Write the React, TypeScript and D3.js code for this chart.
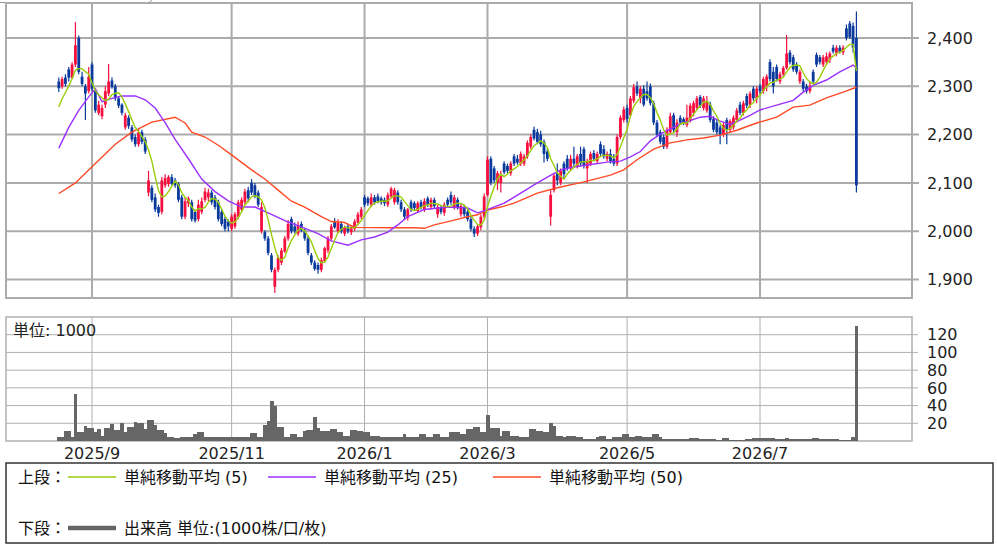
import * as d3 from "d3"
import { useEffect, useRef } from "react"

// daily candles [open, high, low, close], 2025/8/18 .. 2026/8
const candles: [number, number, number, number][] = [
    [2310, 2318, 2288, 2296], [2300, 2320, 2295, 2315], [2318, 2325, 2300, 2305], [2335, 2340, 2310, 2318], [2318, 2350, 2315, 2345],
    [2345, 2433, 2340, 2385], [2400, 2405, 2325, 2330], [2320, 2330, 2300, 2305], [2300, 2305, 2230, 2285], [2290, 2340, 2285, 2320],
    [2345, 2350, 2290, 2295], [2290, 2295, 2245, 2250], [2245, 2270, 2240, 2262], [2238, 2262, 2232, 2255], [2262, 2300, 2255, 2290],
    [2285, 2346, 2280, 2310], [2312, 2318, 2295, 2298], [2300, 2305, 2270, 2275], [2275, 2280, 2255, 2260], [2262, 2265, 2240, 2245],
    [2215, 2245, 2210, 2240], [2235, 2240, 2212, 2218], [2215, 2220, 2185, 2190], [2195, 2200, 2175, 2180], [2180, 2212, 2175, 2205],
    [2205, 2210, 2180, 2185], [2190, 2195, 2160, 2165], [2080, 2125, 2072, 2105], [2090, 2095, 2060, 2065], [2070, 2078, 2040, 2045],
    [2050, 2055, 2030, 2038], [2040, 2112, 2035, 2105], [2095, 2118, 2090, 2110], [2098, 2116, 2092, 2112], [2112, 2118, 2095, 2098],
    [2105, 2110, 2090, 2095], [2098, 2102, 2060, 2065], [2070, 2075, 2025, 2030], [2030, 2070, 2025, 2062], [2058, 2072, 2050, 2068],
    [2060, 2065, 2020, 2025], [2040, 2045, 2018, 2022], [2025, 2065, 2020, 2055], [2040, 2070, 2035, 2062], [2065, 2090, 2060, 2082],
    [2070, 2088, 2062, 2080], [2080, 2085, 2055, 2060], [2070, 2075, 2045, 2050], [2060, 2065, 2020, 2025], [2040, 2045, 2010, 2015],
    [2025, 2030, 2000, 2005], [2020, 2025, 2000, 2010], [2005, 2035, 2000, 2030], [2010, 2040, 2005, 2035], [2030, 2065, 2025, 2060],
    [2045, 2070, 2040, 2065], [2060, 2088, 2055, 2082], [2085, 2092, 2060, 2068], [2100, 2108, 2075, 2080], [2095, 2100, 2068, 2072],
    [2080, 2085, 2050, 2055], [2000, 2060, 1995, 2050], [1998, 2002, 1980, 1985], [1985, 1990, 1950, 1955], [1950, 1955, 1915, 1920],
    [1885, 1925, 1872, 1920], [1920, 1950, 1915, 1945], [1935, 1965, 1930, 1960], [1958, 1990, 1955, 1985], [1985, 2023, 1980, 2015],
    [2025, 2030, 1995, 2000], [2010, 2018, 1995, 2000], [1995, 2020, 1990, 2012], [2015, 2020, 1998, 2002], [2000, 2005, 1980, 1985],
    [1985, 1990, 1950, 1955], [1950, 1955, 1930, 1935], [1935, 1940, 1918, 1922], [1930, 1935, 1912, 1920], [1920, 1945, 1915, 1940],
    [1938, 1968, 1935, 1965], [1960, 1990, 1955, 1985], [1985, 2015, 1980, 2010], [2020, 2027, 2005, 2008], [2000, 2025, 1995, 2018],
    [2015, 2020, 1995, 2000], [1995, 2012, 1990, 2008], [2010, 2015, 1995, 2000], [1998, 2012, 1992, 2008], [2005, 2025, 2000, 2020],
    [2018, 2040, 2012, 2035], [2030, 2050, 2025, 2045], [2070, 2075, 2050, 2055], [2068, 2072, 2052, 2058], [2055, 2078, 2050, 2070],
    [2070, 2075, 2055, 2060], [2072, 2078, 2058, 2062], [2068, 2072, 2055, 2060], [2065, 2070, 2052, 2058], [2055, 2080, 2050, 2075],
    [2072, 2092, 2068, 2088], [2060, 2090, 2055, 2085], [2080, 2085, 2055, 2060], [2060, 2065, 2040, 2045], [2045, 2050, 2025, 2030],
    [2028, 2048, 2022, 2045], [2060, 2065, 2040, 2045], [2058, 2062, 2042, 2048], [2042, 2062, 2038, 2058], [2060, 2065, 2045, 2050],
    [2045, 2068, 2040, 2062], [2068, 2072, 2050, 2055], [2050, 2070, 2045, 2065], [2065, 2070, 2048, 2052], [2035, 2055, 2028, 2050],
    [2050, 2055, 2035, 2040], [2038, 2060, 2032, 2055], [2065, 2070, 2050, 2055], [2075, 2082, 2055, 2060], [2050, 2075, 2045, 2070],
    [2065, 2070, 2045, 2050], [2035, 2058, 2030, 2052], [2050, 2055, 2030, 2035], [2040, 2045, 2020, 2025], [2025, 2030, 2000, 2005],
    [2005, 2010, 1988, 1995], [1995, 2015, 1990, 2010], [2008, 2035, 2002, 2030], [2030, 2078, 2025, 2072], [2075, 2155, 2072, 2148],
    [2150, 2155, 2095, 2100], [2130, 2135, 2100, 2105], [2100, 2125, 2085, 2120], [2100, 2125, 2080, 2118], [2140, 2145, 2118, 2122],
    [2135, 2140, 2120, 2125], [2120, 2145, 2115, 2140], [2155, 2160, 2135, 2140], [2150, 2158, 2138, 2142], [2140, 2165, 2135, 2160],
    [2140, 2160, 2135, 2155], [2155, 2188, 2150, 2183], [2175, 2200, 2170, 2195], [2210, 2216, 2188, 2192], [2205, 2212, 2180, 2185],
    [2200, 2208, 2175, 2180], [2185, 2190, 2142, 2160], [2165, 2170, 2145, 2150], [2030, 2085, 2012, 2075], [2085, 2120, 2080, 2115],
    [2120, 2140, 2095, 2105], [2100, 2130, 2095, 2125], [2140, 2145, 2110, 2118], [2150, 2158, 2125, 2130], [2130, 2158, 2125, 2150],
    [2150, 2175, 2135, 2140], [2135, 2160, 2130, 2155], [2160, 2175, 2135, 2140], [2170, 2175, 2130, 2135], [2130, 2150, 2100, 2145],
    [2140, 2165, 2135, 2160], [2162, 2168, 2145, 2150], [2145, 2165, 2140, 2160], [2180, 2186, 2155, 2160], [2170, 2178, 2150, 2155],
    [2150, 2165, 2145, 2160], [2160, 2170, 2140, 2145], [2150, 2160, 2135, 2140], [2140, 2200, 2135, 2195], [2195, 2240, 2190, 2235],
    [2230, 2258, 2225, 2252], [2255, 2262, 2225, 2232], [2240, 2280, 2235, 2275], [2270, 2305, 2265, 2298], [2300, 2310, 2280, 2285],
    [2275, 2300, 2265, 2295], [2295, 2302, 2258, 2262], [2290, 2310, 2270, 2275], [2300, 2306, 2260, 2265], [2265, 2270, 2220, 2225],
    [2225, 2230, 2195, 2200], [2205, 2210, 2180, 2185], [2195, 2200, 2170, 2175], [2175, 2215, 2170, 2210], [2205, 2245, 2200, 2238],
    [2240, 2245, 2205, 2210], [2205, 2232, 2195, 2225], [2235, 2240, 2220, 2225], [2232, 2236, 2220, 2224], [2220, 2262, 2215, 2235],
    [2230, 2265, 2225, 2260], [2245, 2270, 2238, 2265], [2255, 2280, 2250, 2275], [2278, 2282, 2255, 2260], [2255, 2280, 2250, 2275],
    [2250, 2280, 2245, 2270], [2262, 2268, 2225, 2230], [2232, 2238, 2205, 2210], [2225, 2230, 2200, 2205], [2215, 2220, 2180, 2200],
    [2200, 2225, 2195, 2220], [2230, 2235, 2180, 2210], [2210, 2232, 2205, 2228], [2215, 2240, 2210, 2235], [2230, 2255, 2225, 2250],
    [2262, 2268, 2240, 2245], [2245, 2270, 2240, 2265], [2280, 2285, 2255, 2260], [2262, 2290, 2255, 2285], [2295, 2300, 2270, 2275],
    [2275, 2300, 2265, 2295], [2300, 2305, 2285, 2290], [2290, 2320, 2285, 2315], [2300, 2325, 2290, 2320], [2350, 2356, 2310, 2315],
    [2330, 2340, 2285, 2300], [2340, 2345, 2310, 2315], [2310, 2330, 2305, 2325], [2325, 2342, 2320, 2338], [2338, 2406, 2335, 2368],
    [2370, 2375, 2345, 2350], [2360, 2365, 2330, 2335], [2345, 2350, 2325, 2330], [2310, 2335, 2305, 2330], [2310, 2315, 2290, 2295],
    [2300, 2305, 2285, 2290], [2290, 2310, 2285, 2300], [2330, 2335, 2305, 2310], [2365, 2370, 2340, 2345], [2360, 2365, 2345, 2350],
    [2345, 2365, 2340, 2360], [2350, 2370, 2345, 2362], [2355, 2372, 2348, 2368], [2380, 2386, 2368, 2372], [2368, 2385, 2362, 2380],
    [2380, 2385, 2368, 2372], [2370, 2385, 2365, 2380], [2420, 2428, 2395, 2400], [2430, 2435, 2398, 2402], [2425, 2432, 2370, 2380],
    [2400, 2455, 2080, 2095],
]

// closes of the 4 sessions before the first candle (for the 5-day average)
const priorCloses = [2230, 2240, 2250, 2270]

// volume, unit 1000
const volumes = [
    5, 5, 11, 11, 5, 53, 10, 10, 17, 15,
    15, 10, 14, 6, 15, 15, 19, 12, 12, 20,
    10, 16, 16, 22, 20, 20, 14, 24, 24, 18,
    12, 12, 9, 5, 5, 3, 3, 4.5, 4.5, 5,
    5, 7.5, 10, 10, 5, 5, 4, 4, 4, 5,
    5, 5, 5, 5, 4, 4, 4, 4, 9, 9,
    5, 5, 18, 23, 45, 40, 16, 16, 4.5, 4.5,
    7.5, 7.5, 4.5, 4.5, 11, 12, 12, 27, 15, 11,
    11, 11, 14, 14, 10, 10, 6, 6, 12, 12,
    11, 11, 10, 10, 6, 6, 6, 4.5, 4.5, 4.5,
    5, 5, 5, 5, 8, 5, 5, 5, 5, 8,
    8, 5, 5, 8, 8, 4.5, 4.5, 4.5, 10, 10,
    10, 8, 8, 14, 14, 16, 16, 10, 10, 29,
    15, 15, 15, 6, 11, 11, 6, 6, 6, 5,
    5, 5, 13, 13, 11, 11, 10, 10, 20, 17,
    6, 6, 4.5, 6, 6, 6, 4.5, 4.5, 2.6, 2.6,
    2.6, 2.6, 4.5, 6, 6, 2.6, 2.6, 4.5, 4.5, 4.5,
    8, 8, 4.5, 4.5, 6, 6, 4.5, 4.5, 4.5, 8,
    8, 5, 2.6, 2.6, 2.6, 2, 2, 2, 2, 2,
    3.4, 3.4, 3.4, 2, 2, 2, 2, 2, 1.5, 1.5,
    3.8, 3.8, 1, 1, 1, 1, 1, 2.6, 2.6, 3.8,
    3.8, 3.8, 3.8, 3.8, 3.8, 3.8, 2.3, 2.3, 2.3, 3.8,
    2.3, 2.3, 2.3, 2.3, 2.3, 2.3, 2.3, 3.8, 3.8, 2.3,
    2.3, 2.3, 2, 2, 2, 1, 1, 1.5, 1.5, 5,
    130,
]

// moving averages: [session index, value]
const ma25Points: [number, number][] = [
    [0, 2172], [3, 2215], [6, 2250], [9, 2278], [11, 2295], [13, 2268], [16, 2275], [19, 2280], [23, 2280], [26, 2272],
    [29, 2255], [32, 2225], [35, 2190], [39, 2150], [43, 2108], [47, 2082], [51, 2063], [55, 2050], [59, 2050], [63, 2038],
    [69, 2019], [73, 2009], [78, 1995], [82, 1980], [87, 1971], [91, 1982], [95, 1988], [99, 1998], [102, 2013], [105, 2030],
    [110, 2045], [117, 2050], [123, 2048], [126, 2038], [128, 2042], [134, 2058], [139, 2079], [143, 2096], [147, 2112], [151, 2127],
    [155, 2133], [159, 2137], [165, 2143], [169, 2145], [172, 2154], [175, 2165], [178, 2187], [181, 2201], [187, 2222], [193, 2236],
    [196, 2238], [199, 2228], [202, 2221], [205, 2230], [208, 2240], [211, 2251], [216, 2261], [221, 2271], [224, 2288], [227, 2302],
    [231, 2313], [235, 2330], [238, 2340], [239, 2344], [240, 2338],
]
const ma50Points: [number, number][] = [
    [0, 2078], [5, 2100], [11, 2140], [17, 2180], [22, 2205], [28, 2226], [35, 2236], [38, 2224], [40, 2205], [44, 2195],
    [48, 2178], [52, 2158], [58, 2127], [62, 2108], [66, 2085], [70, 2062], [74, 2050], [79, 2030], [82, 2020], [86, 2018],
    [89, 2008], [100, 2007], [107, 2007], [110, 2006], [113, 2013], [119, 2023], [123, 2030], [126, 2034], [129, 2044], [133, 2050],
    [137, 2058], [140, 2067], [144, 2079], [150, 2090], [158, 2102], [166, 2116], [170, 2127], [174, 2148], [179, 2170], [184, 2183],
    [189, 2189], [194, 2193], [199, 2199], [204, 2209], [210, 2224], [216, 2236], [221, 2257], [226, 2261], [231, 2276], [236, 2288],
    [240, 2298],
]

const monthLabels = ["2025/9", "2025/11", "2026/1", "2026/3", "2026/5", "2026/7"]
const monthStarts = [10, 52, 92, 129, 171, 211]
const priceTicks = [1900, 2000, 2100, 2200, 2300, 2400]
const volumeTicks = [20, 40, 60, 80, 100, 120]

const FONT = "'DejaVu Sans', 'Noto Sans CJK JP', sans-serif"
const UP = "#f5103f"
const DOWN = "#0a3a9c"

export default function App() {
    const svgRef = useRef<SVGSVGElement>(null)

    useEffect(() => {
        const left = 6
        const right = 912
        const priceTop = 3
        const priceBottom = 298
        const volTop = 317
        const volBottom = 441

        const x = d3.scaleLinear([0, candles.length - 1], [58.8, 856.4])
        const y = d3.scaleLinear([1900, 2400], [279.5, 38])
        const yVol = d3.scaleLinear([0, 140], [volBottom, volTop])
        const step = x(1) - x(0)

        if (svgRef.current !== null) {
            svgRef.current.innerHTML = ""
        }
        const svg = d3.select(svgRef.current)
            .attr("viewBox", [0, 0, 997, 550])
            .style("font-family", FONT)

        // stray edge top left
        svg.append("path")
            .attr("d", "M0,2.5H148q3,0,4,-3")
            .attr("fill", "none")
            .attr("stroke", "#9a9a9a")
            .attr("stroke-width", 1)

        // ---------- price panel ----------
        const grid = svg.append("g").attr("stroke", "#ababab").attr("stroke-width", 2)
        grid.selectAll(".h").data(priceTicks).join("line")
            .attr("x1", left).attr("x2", right + 7)
            .attr("y1", d => y(d)).attr("y2", d => y(d))
        grid.selectAll(".v").data(monthStarts).join("line")
            .attr("x1", d => x(d)).attr("x2", d => x(d))
            .attr("y1", priceTop).attr("y2", priceBottom)
        grid.append("rect")
            .attr("x", left).attr("y", priceTop)
            .attr("width", right - left).attr("height", priceBottom - priceTop)
            .attr("fill", "none")

        svg.append("g")
            .selectAll("text").data(priceTicks).join("text")
            .attr("x", 927).attr("y", d => y(d))
            .attr("dy", "0.36em")
            .attr("font-size", 16)
            .attr("fill", "#222")
            .text(d => d3.format(",")(d))

        const bodyW = 2.8
        const candleG = svg.append("g")
        candleG.selectAll("line").data(candles).join("line")
            .attr("x1", (_, i) => x(i)).attr("x2", (_, i) => x(i))
            .attr("y1", d => y(d[1])).attr("y2", d => y(d[2]))
            .attr("stroke", d => d[3] >= d[0] ? UP : DOWN)
            .attr("stroke-width", 1.2)
        candleG.selectAll("rect").data(candles).join("rect")
            .attr("x", (_, i) => x(i) - bodyW / 2)
            .attr("width", bodyW)
            .attr("y", d => y(Math.max(d[0], d[3])))
            .attr("height", d => Math.max(1.2, Math.abs(y(d[0]) - y(d[3]))))
            .attr("fill", d => d[3] >= d[0] ? UP : DOWN)

        // 5-day simple average from closes
        const closes = [...priorCloses, ...candles.map(d => d[3])]
        const ma5 = candles.map((_, i) => [i, d3.mean(closes.slice(i, i + 5)) as number] as [number, number])

        const line = d3.line<[number, number]>().x(d => x(d[0])).y(d => y(d[1]))
        const maLines: [[number, number][], string][] = [
            [ma50Points, "#ff4a26"],
            [ma25Points, "#9b30ff"],
            [ma5, "#9acd0a"],
        ]
        svg.append("g").selectAll("path").data(maLines).join("path")
            .attr("d", d => line(d[0]))
            .attr("fill", "none")
            .attr("stroke", d => d[1])
            .attr("stroke-width", 1.4)

        // ---------- volume panel ----------
        const vgrid = svg.append("g").attr("stroke", "#b0b0b0").attr("stroke-width", 1)
        vgrid.selectAll(".h").data(volumeTicks).join("line")
            .attr("x1", left).attr("x2", right + 6)
            .attr("y1", d => yVol(d)).attr("y2", d => yVol(d))
        vgrid.selectAll(".v").data(monthStarts).join("line")
            .attr("x1", d => x(d)).attr("x2", d => x(d))
            .attr("y1", volTop).attr("y2", volBottom)
        vgrid.append("rect")
            .attr("x", left).attr("y", volTop)
            .attr("width", right - left).attr("height", volBottom - volTop)
            .attr("fill", "none")
            .attr("stroke-width", 1.5)

        svg.append("g")
            .attr("shape-rendering", "crispEdges")
            .selectAll("rect").data(volumes).join("rect")
            .attr("x", (_, i) => x(i) - step / 2)
            .attr("width", step + 0.4)
            .attr("y", d => yVol(d))
            .attr("height", d => yVol(0) - yVol(d))
            .attr("fill", "#666")

        svg.append("g")
            .selectAll("text").data(volumeTicks).join("text")
            .attr("x", 927).attr("y", d => yVol(d))
            .attr("dy", "0.36em")
            .attr("font-size", 16)
            .attr("fill", "#222")
            .text(d => d)

        svg.append("text")
            .attr("x", 13).attr("y", 336)
            .attr("font-size", 16)
            .attr("fill", "#222")
            .text("単位: 1000")

        svg.append("g")
            .selectAll("text").data(monthLabels).join("text")
            .attr("x", (_, i) => x(monthStarts[i]))
            .attr("y", 459)
            .attr("text-anchor", "middle")
            .attr("font-size", 16)
            .attr("fill", "#222")
            .text(d => d)

        // ---------- legend ----------
        svg.append("rect")
            .attr("x", 6).attr("y", 463)
            .attr("width", 987).attr("height", 80)
            .attr("fill", "none")
            .attr("stroke", "#333")
            .attr("stroke-width", 1.5)

        const legend = svg.append("g").attr("font-size", 16).attr("fill", "#111")
        legend.append("text").attr("x", 18).attr("y", 483).text("上段：")
        legend.append("text").attr("x", 18).attr("y", 534).text("下段：")
        const items: [number, string, string][] = [
            [68, "#9acd0a", "単純移動平均 (5)"],
            [268, "#9b30ff", "単純移動平均 (25)"],
            [493, "#ff4a26", "単純移動平均 (50)"],
        ]
        items.forEach(([lx, color, label]) => {
            legend.append("line")
                .attr("x1", lx).attr("x2", lx + 48)
                .attr("y1", 477).attr("y2", 477)
                .attr("stroke", color).attr("stroke-width", 1.5)
            legend.append("text").attr("x", lx + 56).attr("y", 483).text(label)
        })
        legend.append("line")
            .attr("x1", 68).attr("x2", 116)
            .attr("y1", 528).attr("y2", 528)
            .attr("stroke", "#666").attr("stroke-width", 4.5)
        legend.append("text").attr("x", 124).attr("y", 534).text("出来高 単位:(1000株/口/枚)")
    }, [])

    return <svg ref={svgRef} width={997} height={550} style={{ position: "absolute", left: 0, top: 0 }}></svg>
}
